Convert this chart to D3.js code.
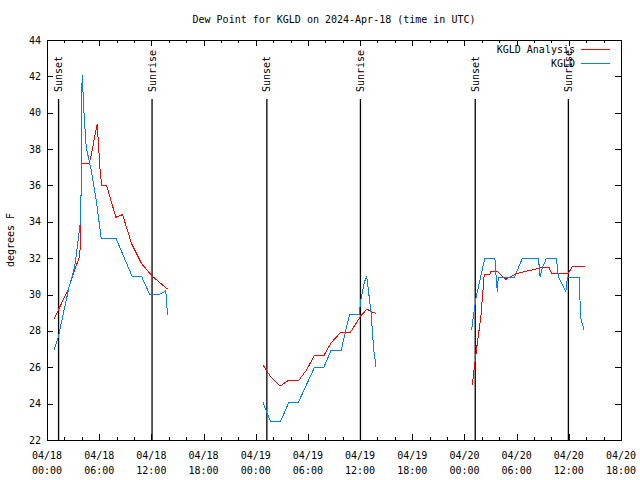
<!DOCTYPE html>
<html>
<head>
<meta charset="utf-8">
<script src="https://cdn.jsdelivr.net/npm/d3@7/dist/d3.min.js"></script>
<style>
  html, body { margin: 0; padding: 0; background: #fff; }
  svg { display: block; }
  text { font-family: "DejaVu Sans Mono", monospace; font-size: 10px; fill: #000; }
</style>
</head>
<body>
<svg id="chart" width="640" height="480"></svg>
<script>
// ---- data (hours since 2024-04-18 00:00 UTC; null = gap) ----
const titleText = "Dew Point for KGLD on 2024-Apr-18 (time in UTC)";
const yLabel = "degrees F";
const seriesNames = ["KGLD Analysis", "KGLD"];

const analysisHours = [0.80, 2.41, 3.18, 3.75, 3.87, 3.94, 4.79, 5.02, 5.77, 6.08, 6.28, 6.85, 7.92, 8.69, 9.72, 10.87, 12.13, 13.85,
  null,
  24.83, 25.71, 26.83, 27.81, 28.90, 29.84, 30.76, 31.86, 32.68, 33.79, 34.89, 36.09, 36.79, 37.27, 37.84,
  null,
  48.90, 49.39, 49.89, 50.27, 50.92, 51.04, 51.80, 52.31, 52.77, 53.15, 54.10, 55.25, 56.21, 56.78, 57.74, 58.00, 59.95, 60.41, 61.83];
const analysisDew = [28.65, 30.25, 31.35, 32.1, 33.0, 37.2, 37.2, 37.5, 39.4, 37.0, 36.0, 36.0, 34.25, 34.4, 32.8, 31.7, 31.0, 30.3,
  null,
  26.13, 25.48, 24.97, 25.3, 25.25, 25.85, 26.66, 26.66, 27.35, 27.93, 27.93, 28.83, 29.2, 29.06, 28.97,
  null,
  25.03, 27.0, 28.8, 31.08, 31.08, 31.26, 31.26, 31.02, 30.84, 30.95, 31.17, 31.3, 31.4, 31.48, 31.48, 31.17, 31.17, 31.53, 31.53];

const obsHours = [0.80, 1.30, 2.53, 3.18, 3.82, 3.92, 3.94, 4.05, 4.25, 4.51, 5.08, 5.66, 6.23, 7.92, 9.79, 10.87, 11.82, 12.89, 13.66, 13.85,
  null,
  24.83, 25.71, 26.83, 27.81, 28.90, 30.76, 31.83, 32.68, 33.83, 34.78, 35.89, 36.12, 36.50, 36.77, 37.27, 37.57, 37.84,
  null,
  48.82, 49.13, 49.32, 49.78, 50.35, 51.50, 51.69, 51.80, 51.88, 53.72, 54.67, 56.51, 56.70, 56.90, 57.43, 58.57, 58.80, 59.65, 59.84, 61.18, 61.37, 61.75];
const obsDew = [26.95, 27.67, 30.4, 31.5, 33.9, 35.6, 40.0, 42.1, 40.0, 38.1, 36.85, 35.2, 33.1, 33.1, 31.0, 31.0, 30.0, 30.0, 30.2, 28.9,
  null,
  24.07, 23.0, 23.0, 24.07, 24.07, 26.0, 26.0, 26.95, 26.95, 28.9, 28.9, 29.8, 30.7, 30.98, 28.97, 26.95, 26.0,
  null,
  28.05, 29.15, 29.8, 30.8, 32.0, 32.0, 30.6, 30.16, 30.93, 30.93, 32.0, 32.0, 30.95, 31.4, 32.0, 32.0, 30.98, 30.16, 30.93, 30.93, 28.7, 28.05];

const sunLabels = ["Sunset", "Sunrise", "Sunset", "Sunrise", "Sunset", "Sunrise"];
const sunHours = [1.33, 12.08, 25.28, 36.04, 49.24, 59.95];

const yTicks = [22, 24, 26, 28, 30, 32, 34, 36, 38, 40, 42, 44];
const startTime = Date.UTC(2024, 3, 18, 0, 0);
const endTime = Date.UTC(2024, 3, 20, 18, 0);

// ---- layout ----
const L = 47, R = 621, T = 40, B = 440;
const svg = d3.select("#chart");
const toDate = h => new Date(startTime + h * 3600e3);

const x = d3.scaleUtc().domain([new Date(startTime), new Date(endTime)]).range([L, R]);
const y = d3.scaleLinear().domain([22, 44]).range([B, T]);

// title
svg.append("text").attr("x", (L + R) / 2).attr("y", 23).attr("text-anchor", "middle").text(titleText);

// y label
svg.append("text").attr("transform", `translate(14,${(T + B) / 2}) rotate(-90)`)
  .attr("text-anchor", "middle").text(yLabel);

const g = svg.append("g").attr("shape-rendering", "crispEdges");

// border
g.append("rect").attr("x", L).attr("y", T).attr("width", R - L).attr("height", B - T)
  .attr("fill", "none").attr("stroke", "#000").attr("stroke-width", 1);

// y ticks & labels
yTicks.forEach(v => {
  const yy = Math.round(y(v)) + 0.5;
  g.append("line").attr("x1", L).attr("x2", L + 6).attr("y1", yy).attr("y2", yy).attr("stroke", "#000");
  g.append("line").attr("x1", R - 6).attr("x2", R).attr("y1", yy).attr("y2", yy).attr("stroke", "#000");
  svg.append("text").attr("x", 41).attr("y", y(v) + 3.5).attr("text-anchor", "end").text(v);
});

// x ticks
const major = x.ticks(d3.utcHour.every(6));
const minor = x.ticks(d3.utcHour.every(2));
minor.forEach(d => {
  const xx = Math.round(x(d)) + 0.5;
  const len = (d.getUTCHours() % 6 === 0) ? 6 : 3;
  g.append("line").attr("x1", xx).attr("x2", xx).attr("y1", B).attr("y2", B - len).attr("stroke", "#000");
  g.append("line").attr("x1", xx).attr("x2", xx).attr("y1", T).attr("y2", T + len).attr("stroke", "#000");
});
const fmtDay = d3.utcFormat("%m/%d"), fmtTime = d3.utcFormat("%H:%M");
major.forEach(d => {
  const t = svg.append("text").attr("x", x(d)).attr("y", 459).attr("text-anchor", "middle");
  t.append("tspan").attr("x", x(d)).attr("y", 459).text(fmtDay(d));
  t.append("tspan").attr("x", x(d)).attr("y", 474).text(fmtTime(d));
});

// sunrise / sunset lines
sunHours.forEach((h, i) => {
  const xx = x(toDate(h));
  svg.append("line").attr("x1", xx).attr("x2", xx).attr("y1", B).attr("y2", 99)
    .attr("stroke", "#000").attr("stroke-width", 1.3);
  svg.append("text").attr("transform", `translate(${xx + 3.5},92) rotate(-90)`)
    .attr("text-anchor", "start").text(sunLabels[i]);
});

// series lines
function drawSeries(hours, vals, color) {
  const pts = hours.map((h, i) => ({ h, v: vals[i] }));
  const line = d3.line()
    .defined(d => d.h !== null && d.v !== null)
    .x(d => x(toDate(d.h)))
    .y(d => y(d.v));
  svg.append("path").datum(pts).attr("d", line).attr("fill", "none")
    .attr("stroke", color).attr("stroke-width", 1).attr("shape-rendering", "crispEdges");
}
const colors = ["#ff0000", "#0080ff"];
drawSeries(analysisHours, analysisDew, colors[0]);
drawSeries(obsHours, obsDew, colors[1]);

// legend
seriesNames.forEach((name, i) => {
  const yy = 49 + i * 14;
  svg.append("text").attr("x", 575).attr("y", yy + 3.5).attr("text-anchor", "end").text(name);
  svg.append("line").attr("x1", 581).attr("x2", 610).attr("y1", yy + 0.5).attr("y2", yy + 0.5)
    .attr("stroke", colors[i]).attr("shape-rendering", "crispEdges");
});
</script>
</body>
</html>
